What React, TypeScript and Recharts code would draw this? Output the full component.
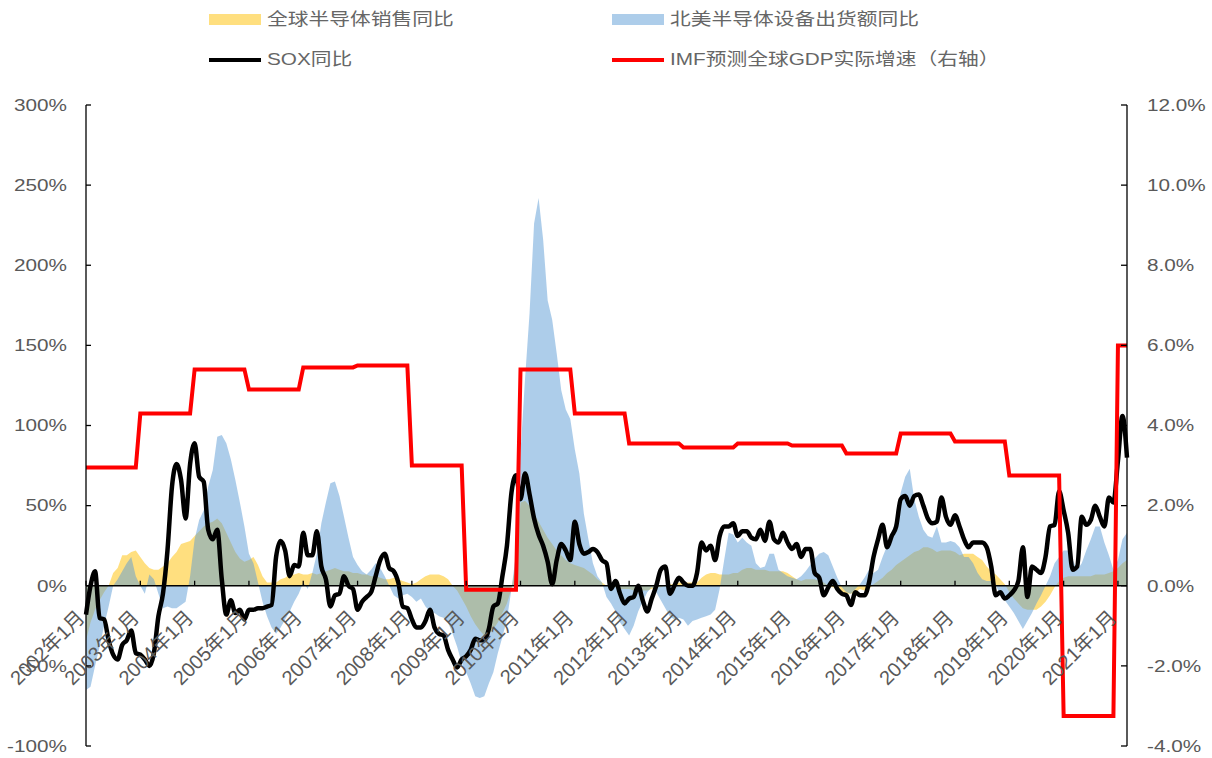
import { ComposedChart, Area, Line, XAxis, YAxis, ReferenceLine } from 'recharts';

const START_YEAR = 2002;

// IMF forecast of real global GDP growth, one value per calendar year (right axis)
const IMF_GDP = [
  2.95, 4.3, 5.4, 4.9, 5.45, 5.5, 3.0, -0.1, 5.4, 4.3,
  3.55, 3.45, 3.55, 3.5, 3.3, 3.8, 3.6, 2.75, -3.25, 6.0,
];

// Global semiconductor sales, YoY %, monthly from 2002-01
const CHIP_SALES = [
  -34, -23, -15, -9, -4, 0, 8, 11, 19, 19, 21, 22,
  18, 14, 11, 10, 10, 12, 14, 18, 21, 26, 27, 28,
  31, 34, 37, 39, 40, 42, 39, 33, 27, 21, 17, 15,
  16, 18, 13, 6, 2, 2, 2, 4, 5, 7, 7, 8,
  7, 7, 8, 7, 8, 9, 10, 11, 10, 9, 9, 8,
  8, 7, 7, 6, 6, 5, 4, 4, 5, 4, 3, 2,
  1, 2, 4, 6, 7, 7, 7, 6, 4, 0, -3, -8,
  -13, -19, -24, -28, -31, -30, -27, -23, -17, -11, -2, 15,
  52, 53, 50, 45, 40, 35, 30, 26, 22, 19, 16, 14,
  13, 12, 11, 9, 7, 4, 2, 0, -1, -1, -2, -2,
  -2, -3, -3, -3, -3, -2, -1, -1, 0, 1, 1, 2,
  2, 2, 2, 2, 5, 7, 8, 8, 7, 7, 7, 8,
  8, 10, 11, 11, 10, 10, 10, 9, 9, 9, 9, 8,
  6, 4, 3, 4, 4, 4, 3, 2, 0, -1, -2, -4,
  -5, -5, -4, -2, -3, -2, 1, 3, 5, 8, 10, 13,
  15, 17, 19, 21, 22, 24, 24, 23, 21, 22, 22, 22,
  21, 19, 20, 20, 20, 18, 16, 12, 9, 7, 4, 1,
  -4, -8, -11, -14, -15, -15, -15, -13, -10, -6, -1, 3,
  5, 6, 6, 6, 6, 6, 6, 7, 7, 7, 8, 9,
  11, 14, 16,
];

// North American semiconductor equipment billings, YoY %
const NA_EQUIPMENT = [
  -65, -63, -50, -38, -25, -13, 0, 4, 9, 14, 18, 6,
  0, -5, 7, 4, -5, -14, -13, -14, -14, -12, -10, 6,
  29, 41, 47, 62, 72, 93, 94, 89, 79, 66, 52, 37,
  20, 14, 2, -10, -19, -26, -30, -26, -21, -16, -10, -5,
  2, -2, 8, 20, 39, 52, 64, 65, 56, 43, 30, 18,
  13, 9, 7, 10, 14, 11, 6, 0, -6, -8, -6, -5,
  -7, -10, -8, -13, -16, -17, -19, -20, -23, -30, -38, -48,
  -54, -61, -69, -70, -69, -61, -54, -42, -32, -21, -2, 20,
  83, 129, 170, 226, 242, 216, 178, 166, 145, 122, 110, 104,
  85, 70, 45, 29, 14, 6, 2, -7, -11, -16, -23, -27,
  -31, -25, -16, -10, -4, -1, -4, -9, -14, -19, -21, -20,
  -21, -25, -22, -21, -20, -19, -18, -15, -2, 16, 33, 32,
  27, 30, 27, 25, 14, 11, 12, 20, 20, 10, 8, 6,
  5, 4, 6, 9, 13, 17, 20, 21, 19, 12, 5, -1,
  -4, -5, -2, 1, 5, 10, 8, 10, 18, 25, 33, 41,
  58, 68, 73, 54, 43, 35, 31, 30, 37, 27, 27, 28,
  27, 24, 18, 18, 14, 8, 4, 3, 3, 0, -5, -9,
  -13, -17, -22, -27, -22, -17, -11, -6, 0, 6, 14, 18,
  22, 22, 16, 10, 14, 22, 29, 37, 37, 27, 19, 10,
  16, 29, 33,
];

// Philadelphia semiconductor index (SOX), YoY %
const SOX = [
  -18, 0, 9, -20, -21, -34, -43, -46, -37, -34, -28, -42,
  -43, -46, -50, -42, -19, -5, 22, 62, 76, 66, 42, 76,
  89, 68, 65, 35, 29, 35, 4, -18, -9, -17, -15, -21,
  -15, -15, -14, -14, -13, -12, 18, 28, 22, 6, 13, 12,
  33, 19, 19, 34, 12, 4, -13, -6, -5, 6, 0, -2,
  -15, -10, -7, -4, 6, 16, 20, 11, 9, 2, -13, -14,
  -21, -26, -26, -22, -15, -26, -30, -31, -40, -46, -51, -46,
  -44, -40, -33, -34, -34, -27, -13, -11, 6, 25, 58, 69,
  54, 70, 57, 42, 32, 25, 15, 1, 16, 26, 22, 16,
  40, 26, 20, 21, 23, 21, 16, 14, -2, 3, -5, -11,
  -8, -7, 0, -9, -16, -8, 0, 10, 12, -5, 0, 5,
  2, 0, 0, 8, 27, 22, 25, 16, 31, 37, 37, 39,
  31, 34, 34, 30, 29, 35, 28, 40, 29, 27, 33, 27,
  23, 26, 18, 23, 23, 8, 5, -6, -1, 3, -2, -5,
  -6, -12, -4, -6, -6, 2, 18, 29, 38, 24, 31, 37,
  54, 56, 50, 56, 57, 50, 42, 39, 40, 55, 43, 38,
  44, 37, 29, 24, 27, 27, 27, 24, 12, -6, -4, -8,
  -6, -3, 3, 24, -7, 12, 10, 8, 18, 37, 38, 59,
  47, 33, 10, 12, 43, 38, 41, 50, 43, 37, 55, 52,
  78, 106, 80,
];

const LEFT_TICKS = [-100, -50, 0, 50, 100, 150, 200, 250, 300];
const RIGHT_TICKS = [-4, -2, 0, 2, 4, 6, 8, 10, 12];

const months = SOX.map((_, i) => `${START_YEAR + Math.floor(i / 12)}年${(i % 12) + 1}月`);
const yearTicks = months.filter((_, i) => i % 12 === 0);

const data = months.map((month, i) => ({
  month,
  sales: CHIP_SALES[i],
  equip: NA_EQUIPMENT[i],
  sox: SOX[i],
  gdp: IMF_GDP[Math.floor(i / 12)],
}));

const W = 1212;
const H = 758;
const PLOT_LEFT = 86;
const PLOT_RIGHT = 1127;
const PLOT_TOP = 105;
const PLOT_BOTTOM = 746;
const AXIS_W = 60;
const X_AXIS_H = 12;
const ZERO_Y = PLOT_TOP + ((300 - 0) / 400) * (PLOT_BOTTOM - PLOT_TOP);

const FONT = "'Liberation Sans', 'Noto Sans CJK SC', sans-serif";
const TEXT = '#595959';
const STRETCH = 1.22;

// category ticks sit on the bottom edge; labels are moved up to the zero line
const MonthTick = ({ x, payload }: any) => (
  <g>
    <line x1={x} x2={x} y1={ZERO_Y} y2={ZERO_Y - 5} stroke="#000" strokeWidth={1.3} />
    <text
      transform={`translate(${x},${ZERO_Y + 33}) rotate(-45)`}
      textAnchor="end"
      fontSize={20}
      fontFamily={FONT}
      fill={TEXT}
    >
      {payload.value}
    </text>
  </g>
);

const LeftTick = ({ y, payload }: any) => (
  <g>
    <line x1={PLOT_LEFT} x2={PLOT_LEFT + 5} y1={y} y2={y} stroke="#000" strokeWidth={1.3} />
    <text
      transform={`translate(${PLOT_LEFT - 19},${y}) scale(${STRETCH},1)`}
      textAnchor="end"
      dominantBaseline="central"
      fontSize={17}
      fontFamily={FONT}
      fill={TEXT}
    >
      {`${payload.value}%`}
    </text>
  </g>
);

const RightTick = ({ y, payload }: any) => (
  <g>
    <line x1={PLOT_RIGHT} x2={PLOT_RIGHT - 6} y1={y} y2={y} stroke="#000" strokeWidth={1.3} />
    <text
      transform={`translate(${PLOT_RIGHT + 20},${y}) scale(${STRETCH},1)`}
      textAnchor="start"
      dominantBaseline="central"
      fontSize={17}
      fontFamily={FONT}
      fill={TEXT}
    >
      {`${Number(payload.value).toFixed(1)}%`}
    </text>
  </g>
);

const legendItems = [
  { label: '全球半导体销售同比', kind: 'fill', color: 'rgba(255,192,0,0.5)', left: 209, top: 20 },
  { label: '北美半导体设备出货额同比', kind: 'fill', color: 'rgba(91,155,213,0.5)', left: 612, top: 20 },
  { label: 'SOX同比', kind: 'line', color: '#000', left: 209, top: 60 },
  { label: 'IMF预测全球GDP实际增速（右轴）', kind: 'line', color: '#ff0000', left: 612, top: 60 },
];

function ChartLegend() {
  return (
    <>
      {legendItems.map((item) => (
        <div key={item.label}>
          <div
            style={{
              position: 'absolute',
              left: item.left,
              top: item.kind === 'fill' ? item.top - 6 : item.top - 2,
              width: 52,
              height: item.kind === 'fill' ? 11 : 4,
              background: item.color,
            }}
          />
          <div
            style={{
              position: 'absolute',
              left: item.left + 58,
              top: item.top - 10,
              height: 20,
              lineHeight: '20px',
              fontSize: 17,
              fontFamily: FONT,
              color: '#666',
              whiteSpace: 'nowrap',
              transform: `scaleX(${STRETCH})`,
              transformOrigin: 'left center',
            }}
          >
            {item.label}
          </div>
        </div>
      ))}
    </>
  );
}

export default function App() {
  return (
    <div style={{ position: 'absolute', left: 0, top: 0, width: W, height: H, background: '#fff' }}>
      <ChartLegend />
      <ComposedChart
        width={W}
        height={H}
        data={data}
        margin={{
          top: PLOT_TOP,
          bottom: H - PLOT_BOTTOM - X_AXIS_H,
          left: PLOT_LEFT - AXIS_W,
          right: W - PLOT_RIGHT - AXIS_W,
        }}
      >
        <XAxis
          dataKey="month"
          scale="point"
          ticks={yearTicks}
          interval={0}
          height={X_AXIS_H}
          axisLine={false}
          tickLine={false}
          tick={<MonthTick />}
        />
        <YAxis
          yAxisId="left"
          domain={[-100, 300]}
          ticks={LEFT_TICKS}
          interval={0}
          width={AXIS_W}
          axisLine={{ stroke: '#000', strokeWidth: 1.3 }}
          tickLine={false}
          tick={<LeftTick />}
        />
        <YAxis
          yAxisId="right"
          orientation="right"
          domain={[-4, 12]}
          ticks={RIGHT_TICKS}
          interval={0}
          width={AXIS_W}
          axisLine={{ stroke: '#000', strokeWidth: 1.3 }}
          tickLine={false}
          tick={<RightTick />}
        />
        <Area
          yAxisId="left"
          dataKey="sales"
          type="linear"
          baseValue={0}
          stroke="none"
          fill="#ffc000"
          fillOpacity={0.5}
          isAnimationActive={false}
        />
        <Area
          yAxisId="left"
          dataKey="equip"
          type="linear"
          baseValue={0}
          stroke="none"
          fill="#5b9bd5"
          fillOpacity={0.5}
          isAnimationActive={false}
        />
        <ReferenceLine yAxisId="left" y={0} stroke="#000" strokeWidth={1.3} />
        <Line
          yAxisId="left"
          dataKey="sox"
          type="monotone"
          stroke="#000"
          strokeWidth={4.5}
          dot={false}
          isAnimationActive={false}
        />
        <Line
          yAxisId="right"
          dataKey="gdp"
          type="linear"
          stroke="#ff0000"
          strokeWidth={4}
          dot={false}
          isAnimationActive={false}
        />
      </ComposedChart>
    </div>
  );
}
